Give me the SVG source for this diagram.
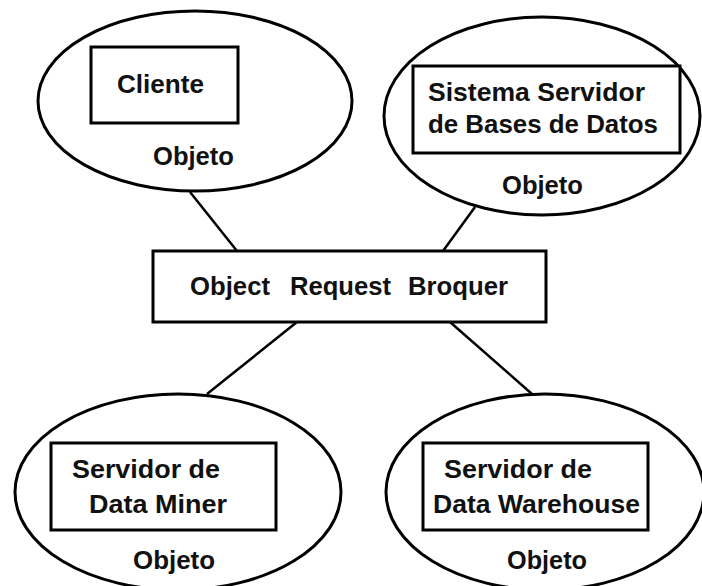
<svg xmlns="http://www.w3.org/2000/svg" width="702" height="586" viewBox="0 0 702 586">
<style>
.sh{fill:#fff;stroke:#000;stroke-width:3}
.ln{stroke:#000;stroke-width:2.5;fill:none}
text{font-family:"Liberation Sans",Arial,sans-serif;font-weight:bold;font-size:26px;fill:#111}
</style>
<rect width="702" height="586" fill="#fff"/>
<g id="connectors">
<line class="ln" x1="190" y1="192" x2="237" y2="251"/>
<line class="ln" x1="475" y1="207" x2="443" y2="251"/>
<line class="ln" x1="297" y1="322" x2="207" y2="394"/>
<line class="ln" x1="450" y1="322" x2="532" y2="394"/>
</g>
<g id="cliente">
<ellipse class="sh" cx="195" cy="101" rx="157" ry="90"/>
<rect class="sh" x="91" y="47" width="147" height="76"/>
<text x="117" y="93" textLength="87" lengthAdjust="spacingAndGlyphs">Cliente</text>
<text x="153" y="165" textLength="81" lengthAdjust="spacingAndGlyphs">Objeto</text>
</g>
<g id="servidor-bd">
<ellipse class="sh" cx="542" cy="116" rx="158" ry="99"/>
<rect class="sh" x="413" y="66" width="267" height="87"/>
<text x="428" y="101" textLength="217" lengthAdjust="spacingAndGlyphs">Sistema Servidor</text>
<text x="428" y="133" textLength="230" lengthAdjust="spacingAndGlyphs">de Bases de Datos</text>
<text x="502" y="194" textLength="81" lengthAdjust="spacingAndGlyphs">Objeto</text>
</g>
<g id="orb">
<rect class="sh" x="153" y="251" width="393" height="71"/>
<text y="295"><tspan x="190" textLength="80" lengthAdjust="spacingAndGlyphs">Object</tspan> <tspan x="290" textLength="101" lengthAdjust="spacingAndGlyphs">Request</tspan> <tspan x="408" textLength="100" lengthAdjust="spacingAndGlyphs">Broquer</tspan></text>
</g>
<g id="data-miner">
<ellipse class="sh" cx="178" cy="492" rx="163" ry="98"/>
<rect class="sh" x="51" y="443" width="225" height="87"/>
<text x="72" y="478" textLength="148" lengthAdjust="spacingAndGlyphs">Servidor de</text>
<text x="89" y="513" textLength="138" lengthAdjust="spacingAndGlyphs">Data Miner</text>
<text x="133" y="569" textLength="82" lengthAdjust="spacingAndGlyphs">Objeto</text>
</g>
<g id="data-warehouse">
<ellipse class="sh" cx="545" cy="492" rx="159" ry="98"/>
<rect class="sh" x="423" y="443" width="225" height="87"/>
<text x="444" y="478" textLength="148" lengthAdjust="spacingAndGlyphs">Servidor de</text>
<text x="433" y="513" textLength="207" lengthAdjust="spacingAndGlyphs">Data Warehouse</text>
<text x="507" y="569" textLength="80" lengthAdjust="spacingAndGlyphs">Objeto</text>
</g>
</svg>
